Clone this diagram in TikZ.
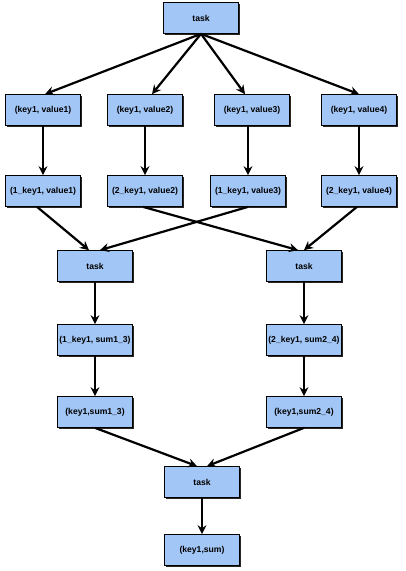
\documentclass[tikz,border=0pt]{standalone}
\usepackage{fontspec}
\setmainfont{Liberation Sans}
\usetikzlibrary{positioning,arrows.meta,shadows}
\definecolor{boxblue}{RGB}{162,198,246}
\tikzset{
   box/.style = {%
    shape=rectangle,
    draw=black,
    fill=boxblue,
    line width=0.7pt,
    minimum width=75pt,
    minimum height=31pt,
    inner xsep=2pt,
    align=center,
    drop shadow={shadow xshift=1.4pt, shadow yshift=-1.4pt, fill=black, opacity=0.85},
    font=\fontsize{8.6}{9}\selectfont\bfseries},
 arrow/.style = {%
    draw=black,
    line width=2.2pt,
    -{Stealth[length=9pt,width=9pt,inset=3pt]}},
    }

\begin{document}
\begin{tikzpicture}[x=1pt,y=-1pt]
  \useasboundingbox (0,0) rectangle (405,571);
  % map stage
  \node[box] (split) at (201,18) {task};
  \node[box] (kv1) at (43,110) {(key1, value1)};
  \node[box] (kv2) at (145,110) {(key1, value2)};
  \node[box] (kv3) at (252,110) {(key1, value3)};
  \node[box] (kv4) at (359,110) {(key1, value4)};
  \node[box] (pk1) at (43,191) {(1\_key1, value1)};
  \node[box] (pk2) at (145,191) {(2\_key1, value2)};
  \node[box] (pk3) at (248,191) {(1\_key1, value3)};
  \node[box] (pk4) at (359,191) {(2\_key1, value4)};
  % reduce stage
  \node[box] (redA) at (95,266) {task};
  \node[box] (redB) at (304,266) {task};
  \node[box] (sumA) at (95,340) {(1\_key1, sum1\_3)};
  \node[box] (sumB) at (304,340) {(2\_key1, sum2\_4)};
  \node[box] (outA) at (95,412) {(key1,sum1\_3)};
  \node[box] (outB) at (304,412) {(key1,sum2\_4)};
  % final merge
  \node[box] (merge) at (202,482) {task};
  \node[box] (final) at (202,550) {(key1,sum)};

  \draw[arrow] (split.south) -- ([xshift=2pt]kv1.north);
  \draw[arrow] (split.south) -- ([xshift=7pt]kv2.north);
  \draw[arrow] (split.south) -- ([xshift=-7pt]kv3.north);
  \draw[arrow] (split.south) -- (kv4.north);
  \draw[arrow] (kv1) -- (pk1);
  \draw[arrow] (kv2) -- (pk2);
  \draw[arrow] (kv3.south -| pk3) -- (pk3);
  \draw[arrow] (kv4) -- (pk4);
  \draw[arrow] ([xshift=-6pt]pk1.south) -- ([xshift=-6pt]redA.north);
  \draw[arrow] ([xshift=-2pt]pk2.south) -- ([xshift=-6pt]redB.north);
  \draw[arrow] (pk3.south) -- ([xshift=5pt]redA.north);
  \draw[arrow] ([xshift=-2pt]pk4.south) -- (redB.north);
  \draw[arrow] (redA) -- (sumA);
  \draw[arrow] (redB) -- (sumB);
  \draw[arrow] (sumA) -- (outA);
  \draw[arrow] (sumB) -- (outB);
  \draw[arrow] (outA.south) -- ([xshift=-5pt]merge.north);
  \draw[arrow] (outB.south) -- ([xshift=5pt]merge.north);
  \draw[arrow] (merge) -- (final);
\end{tikzpicture}
\end{document}
